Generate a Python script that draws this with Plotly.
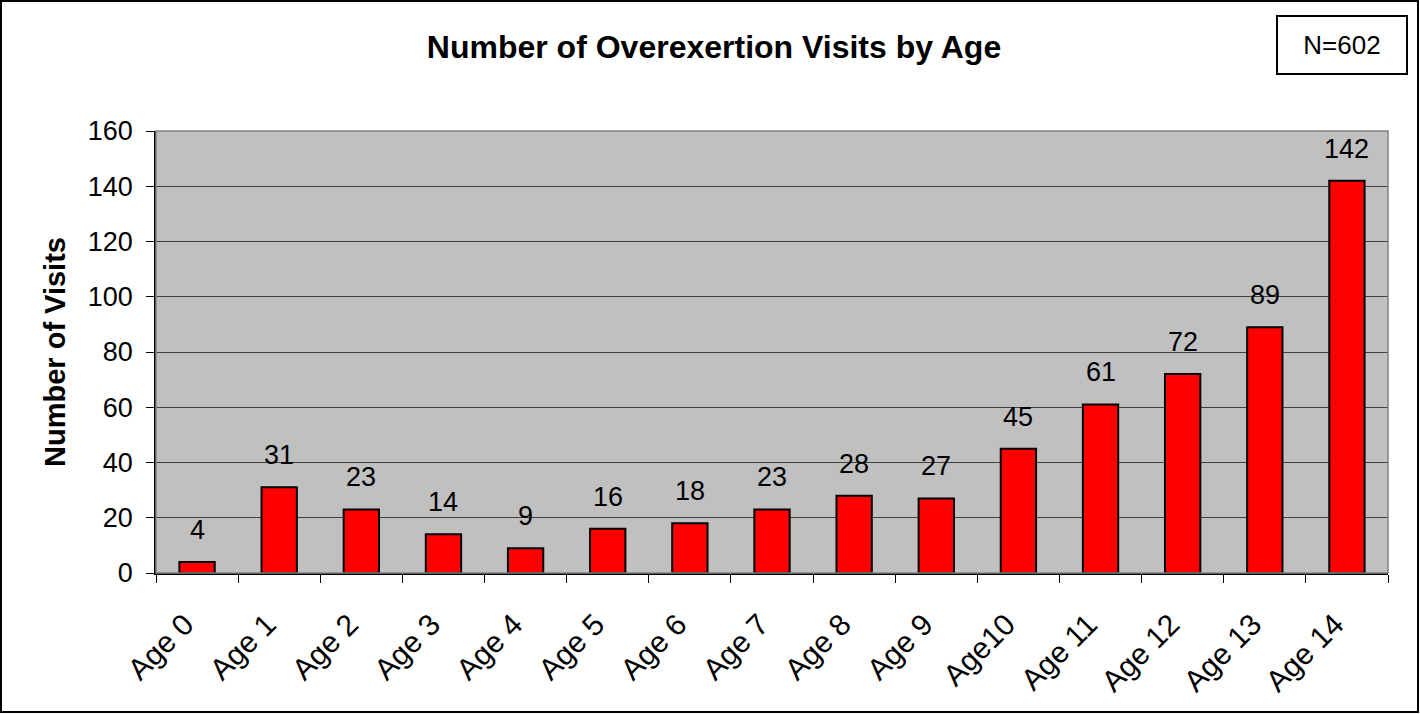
import plotly.graph_objects as go

ages = ['Age 0', 'Age 1', 'Age 2', 'Age 3', 'Age 4', 'Age 5', 'Age 6', 'Age 7',
        'Age 8', 'Age 9', 'Age10', 'Age 11', 'Age 12', 'Age 13', 'Age 14']
visits = [4, 31, 23, 14, 9, 16, 18, 23, 28, 27, 45, 61, 72, 89, 142]
y_ticks = [0, 20, 40, 60, 80, 100, 120, 140, 160]

font_nm = 'Liberation Sans, Arial, sans-serif'

fig = go.Figure(go.Bar(
    x=ages, y=visits,
    marker=dict(color='#FF0000', line=dict(color='black', width=2)),
    width=0.43, hoverinfo='x+y',
))

# value labels sit a bit higher above the bars than plotly's 'outside' text
labels = [dict(x=a, y=v, text=str(v), xref='x', yref='y', showarrow=False,
               yanchor='bottom', yshift=15,
               font=dict(size=27, family=font_nm, color='black'))
          for a, v in zip(ages, visits)]

labels.append(dict(text='N=602', xref='paper', yref='paper',
                   x=(1342 - 156) / 1232, y=1 + (131 - 44.5) / 442,
                   xanchor='center', yanchor='middle', showarrow=False,
                   font=dict(size=26, family=font_nm, color='black'),
                   bordercolor='black', borderwidth=2, bgcolor='white',
                   width=126, height=54))

fig.update_layout(
    width=1420, height=714,
    margin=dict(l=156, r=32, t=131, b=141),
    paper_bgcolor='white', plot_bgcolor='#C0C0C0',
    font=dict(family=font_nm, color='black'),
    showlegend=False,
    title=dict(text='<b>Number of Overexertion Visits by Age</b>',
               x=(714 - 156) / 1232, xanchor='center', xref='paper',
               y=1 - 47 / 714, yanchor='middle',
               font=dict(size=32, family=font_nm, color='black')),
    shapes=[
        dict(type='rect', xref='paper', yref='paper', x0=-155 / 1232, x1=1 + 30 / 1232,
             y0=-139 / 442, y1=1 + 130 / 442, line=dict(color='black', width=2)),
        dict(type='rect', xref='paper', yref='paper', x0=0, x1=1, y0=0, y1=1,
             line=dict(color='#808080', width=1.5)),
    ],
    annotations=labels,
)

fig.update_xaxes(
    tickson='boundaries', ticks='outside', ticklen=8, tickcolor='black', tickwidth=1,
    tickangle=-45, tickfont=dict(size=30), ticklabelstandoff=20, ticklabelshift=-12,
    showgrid=False, showline=True, linecolor='black', linewidth=1.5,
)
fig.update_yaxes(
    range=[0, 160], tickvals=y_ticks, ticks='outside', ticklen=8, tickcolor='black',
    tickfont=dict(size=27), ticklabelstandoff=8, showgrid=True, gridcolor='#404040',
    gridwidth=1, showline=True, linecolor='black', linewidth=1.5, zeroline=False,
    title=dict(text='<b>Number of Visits</b>', font=dict(size=29), standoff=14),
)

# page body has a default 8px margin; drop it so the chart sits at 0,0
fig.write_html('out.html', config={'displayModeBar': False},
               post_script="document.body.style.margin='0';")
